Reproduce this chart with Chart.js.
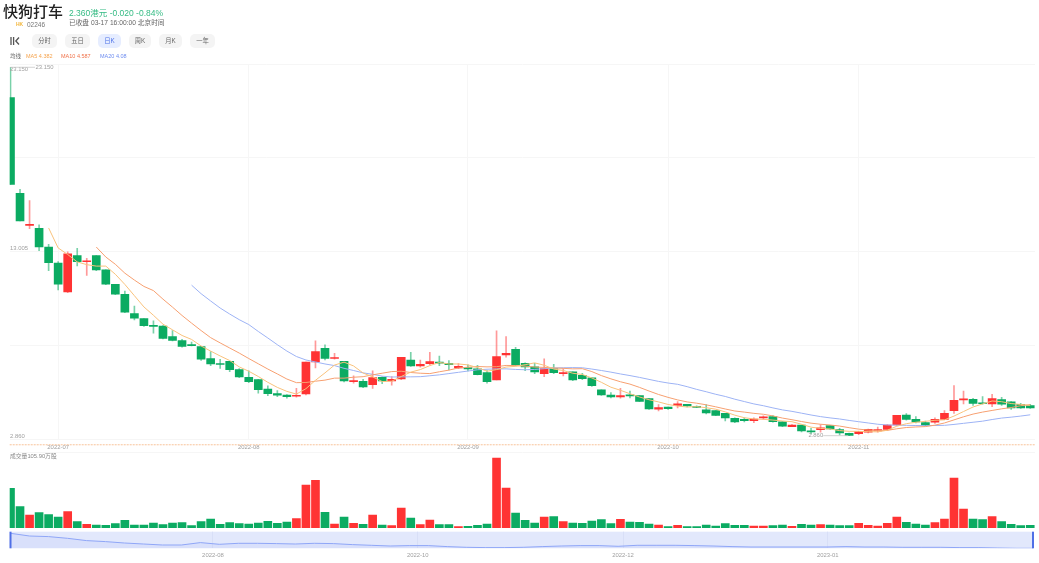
<!DOCTYPE html>
<html lang="zh-CN">
<head>
<meta charset="utf-8">
<title>快狗打车</title>
<script src="https://cdn.jsdelivr.net/npm/chart.js@4/dist/chart.umd.min.js"></script>
<style>
  html, body { margin: 0; padding: 0; background: #fff; }
  body { width: 1039px; height: 563px; overflow: hidden; position: relative; font-family: "Liberation Sans", "Noto Sans CJK SC", sans-serif; }
  canvas { position: absolute; left: 0; filter: blur(.3px); }
  .t { position: absolute; white-space: nowrap; line-height: 1; filter: blur(.25px); }
  .btn { position: absolute; top: 34px; height: 14px; line-height: 14px; border-radius: 5px; background: #f4f4f4; color: #666; font-size: 6.3px; text-align: center; filter: blur(.25px); }
  .btn.on { background: #e6edff; color: #4f73e8; }
</style>
</head>
<body>
<div class="t" style="left:3px;top:4px;font-size:15px;font-weight:500;color:#222">快狗打车</div>
<div class="t" style="left:69px;top:9px;font-size:8.5px;color:#35bb84">2.360港元 -0.020 -0.84%</div>
<div class="t" style="left:16px;top:22px;font-size:5px;font-weight:bold;color:#f2b63c">HK</div>
<div class="t" style="left:27px;top:21.5px;font-size:6.5px;color:#777">02246</div>
<div class="t" style="left:69px;top:20px;font-size:6.7px;color:#666">已收盘 03-17 16:00:00 北京时间</div>
<svg style="position:absolute;left:10px;top:37px" width="10" height="8" viewBox="0 0 10 8"><path d="M1 0V8M3.6 0V8M9 0.5L5.8 4L9 7.5" fill="none" stroke="#555" stroke-width="1.3"/></svg>
<div class="btn" style="left:32px;width:25px">分时</div>
<div class="btn" style="left:65px;width:25px">五日</div>
<div class="btn on" style="left:98px;width:23px">日K</div>
<div class="btn" style="left:129px;width:22px">周K</div>
<div class="btn" style="left:159px;width:23px">月K</div>
<div class="btn" style="left:190px;width:25px">一年</div>
<div class="t" style="left:10px;top:53.5px;font-size:5.5px;color:#666">均线</div>
<div class="t" style="left:26px;top:53.5px;font-size:5.5px;color:#f5a34d">MA5 4.382</div>
<div class="t" style="left:61px;top:53.5px;font-size:5.5px;color:#f0724a">MA10 4.587</div>
<div class="t" style="left:100px;top:53.5px;font-size:5.5px;color:#6d8cf0">MA20 4.08</div>
<div class="t" style="left:10px;top:454px;font-size:5.8px;color:#888">成交量105.90万股</div>

<canvas id="mainChart" width="1039" height="392" style="top:60px"></canvas>
<canvas id="volChart" width="1039" height="84" style="top:448px"></canvas>
<canvas id="navChart" width="1039" height="35" style="top:528px"></canvas>

<script>
// trading days shown in the candle pane
const categories = [
  '2022-06-23','2022-06-24','2022-06-27','2022-06-28','2022-06-29','2022-06-30',
  '2022-07-04','2022-07-05','2022-07-06','2022-07-07','2022-07-08','2022-07-11','2022-07-12','2022-07-13','2022-07-14','2022-07-15',
  '2022-07-18','2022-07-19','2022-07-20','2022-07-21','2022-07-22','2022-07-25','2022-07-26','2022-07-27','2022-07-28','2022-07-29',
  '2022-08-01','2022-08-02','2022-08-03','2022-08-04','2022-08-05','2022-08-08','2022-08-09','2022-08-10','2022-08-11','2022-08-12',
  '2022-08-15','2022-08-16','2022-08-17','2022-08-18','2022-08-19','2022-08-22','2022-08-23','2022-08-24','2022-08-25','2022-08-26',
  '2022-08-29','2022-08-30','2022-08-31',
  '2022-09-01','2022-09-02','2022-09-05','2022-09-06','2022-09-07','2022-09-08','2022-09-09','2022-09-13','2022-09-14','2022-09-15',
  '2022-09-16','2022-09-19','2022-09-20','2022-09-21','2022-09-22','2022-09-23','2022-09-26','2022-09-27','2022-09-28','2022-09-29','2022-09-30',
  '2022-10-03','2022-10-05','2022-10-06','2022-10-07','2022-10-10','2022-10-11','2022-10-12','2022-10-13','2022-10-14','2022-10-17',
  '2022-10-18','2022-10-19','2022-10-20','2022-10-21','2022-10-24','2022-10-25','2022-10-26','2022-10-27','2022-10-28','2022-10-31',
  '2022-11-01','2022-11-02','2022-11-03','2022-11-04','2022-11-07','2022-11-08','2022-11-09','2022-11-10','2022-11-11','2022-11-14',
  '2022-11-15','2022-11-16','2022-11-17','2022-11-18','2022-11-21','2022-11-22','2022-11-23','2022-11-24'
];

const opens = [
  21.48,16.21,14.44,14.28,13.25,12.37,10.78,12.78,12.44,12.78,
  11.99,11.20,10.65,9.58,9.31,8.90,8.90,8.32,8.10,7.86,
  7.77,7.10,6.81,6.96,6.50,6.08,5.95,5.43,5.18,5.10,
  5.03,5.16,6.92,7.67,7.11,6.96,5.84,5.86,5.67,6.08,
  5.88,5.98,7.03,6.70,6.83,6.92,6.85,6.59,6.61,6.54,
  6.33,5.93,7.31,7.62,6.85,6.65,6.28,6.55,6.28,6.37,
  6.19,6.04,5.38,5.09,4.99,5.09,5.07,4.90,4.32,4.43,
  4.53,4.59,4.44,4.28,4.24,4.09,3.82,3.76,3.69,3.84,
  3.91,3.63,3.36,3.45,3.12,3.19,3.41,3.19,2.99,2.97,
  3.05,3.12,3.21,3.45,4.00,3.76,3.58,3.60,3.76,4.24,
  4.83,4.86,4.64,4.61,4.85,4.72,4.59,4.52
];
const closes = [
  16.70,14.69,14.49,13.25,12.39,11.20,12.87,12.45,12.47,11.99,
  11.20,10.65,9.66,9.33,8.92,8.88,8.21,8.11,7.78,7.82,
  7.07,6.81,6.78,6.50,6.10,5.84,5.40,5.18,5.09,5.01,
  5.06,6.92,7.49,7.12,7.14,5.87,5.88,5.54,6.06,5.87,
  5.97,7.18,6.70,6.79,6.94,6.85,6.77,6.68,6.54,6.22,
  5.84,7.21,7.40,6.74,6.65,6.37,6.55,6.33,6.33,5.93,
  6.00,5.62,5.10,4.99,5.07,5.05,4.75,4.33,4.41,4.35,
  4.61,4.50,4.42,4.11,3.98,3.84,3.62,3.69,3.78,3.89,
  3.63,3.38,3.45,3.12,3.07,3.29,3.23,3.01,2.88,3.08,
  3.21,3.19,3.45,3.98,3.76,3.62,3.43,3.76,4.09,4.81,
  4.88,4.64,4.62,4.90,4.59,4.39,4.39,4.39
];
const highs = [
  23.15,16.43,15.81,14.47,13.40,12.45,12.98,13.18,12.63,12.78,
  11.99,11.20,10.83,10.00,9.31,9.18,8.92,8.65,8.17,8.02,
  7.77,7.49,7.07,6.96,6.55,6.43,5.97,5.60,5.34,5.12,
  5.47,6.92,8.08,7.86,7.40,6.96,6.15,5.97,6.43,6.10,
  6.11,7.18,7.45,7.03,7.45,7.25,6.99,6.83,6.76,6.74,
  6.44,8.63,8.32,7.73,6.87,6.85,7.09,6.79,6.55,6.37,
  6.30,6.04,5.38,5.23,5.47,5.32,5.07,4.90,4.57,4.43,
  4.74,4.59,4.50,4.57,4.24,4.09,3.85,3.85,3.85,3.95,
  3.97,3.64,3.47,3.45,3.27,3.47,3.41,3.27,3.01,3.10,
  3.23,3.34,3.47,3.98,4.08,3.91,3.67,3.84,4.24,5.62,
  5.32,4.92,5.01,5.14,4.97,4.74,4.64,4.59
];
const lows = [
  16.70,14.69,14.26,13.05,11.95,10.89,10.74,12.21,11.69,11.95,
  11.18,10.63,9.64,9.23,8.88,8.50,8.19,8.08,7.73,7.80,
  7.00,6.72,6.57,6.39,6.06,5.78,5.20,5.07,5.01,4.92,
  4.98,5.10,6.59,7.03,7.07,5.82,5.75,5.51,5.47,5.73,
  5.64,5.95,6.68,6.63,6.76,6.72,6.48,6.55,6.43,6.20,
  5.75,5.93,7.18,6.70,6.44,6.28,6.11,6.28,6.15,5.89,
  5.95,5.58,5.08,4.94,4.92,4.94,4.73,4.31,4.22,4.30,
  4.39,4.45,4.40,4.06,3.96,3.67,3.58,3.62,3.58,3.76,
  3.60,3.36,3.36,3.07,2.96,3.05,3.21,2.90,2.86,2.92,
  3.01,3.05,3.14,3.43,3.71,3.56,3.40,3.54,3.74,4.09,
  4.61,4.53,4.60,4.46,4.53,4.31,4.36,4.36
];

const ma5 = [
  null,null,null,null,14.30,13.20,12.84,12.43,12.28,12.20,
  12.20,11.75,11.19,10.57,9.95,9.49,9.00,8.69,8.38,8.16,
  7.80,7.52,7.25,7.00,6.65,6.41,6.12,5.80,5.52,5.30,
  5.15,5.45,5.91,6.32,6.75,6.91,6.70,6.31,6.10,5.84,
  5.86,6.12,6.36,6.50,6.72,6.89,6.81,6.81,6.76,6.61,
  6.41,6.50,6.64,6.68,6.77,6.87,6.74,6.53,6.45,6.30,
  6.23,6.04,5.80,5.53,5.36,5.17,4.99,4.84,4.72,4.58,
  4.49,4.44,4.46,4.40,4.32,4.17,3.99,3.85,3.78,3.76,
  3.72,3.67,3.63,3.49,3.33,3.26,3.23,3.14,3.10,3.10,
  3.08,3.07,3.16,3.38,3.52,3.60,3.65,3.71,3.73,3.94,
  4.19,4.44,4.61,4.77,4.73,4.63,4.58,4.53
];
const ma10 = [
  null,null,null,null,null,null,null,null,null,13.25,
  12.70,12.30,11.81,11.43,11.08,10.85,10.38,9.94,9.48,9.06,
  8.65,8.26,7.97,7.69,7.41,7.11,6.82,6.53,6.26,5.98,
  5.78,5.79,5.86,5.92,6.03,6.03,6.08,6.11,6.21,6.30,
  6.39,6.41,6.34,6.30,6.28,6.38,6.47,6.59,6.63,6.67,
  6.65,6.66,6.73,6.72,6.69,6.64,6.62,6.59,6.57,6.54,
  6.55,6.39,6.17,5.99,5.83,5.70,5.52,5.32,5.13,4.97,
  4.83,4.72,4.65,4.56,4.45,4.33,4.22,4.16,4.09,4.04,
  3.95,3.83,3.74,3.64,3.55,3.49,3.45,3.39,3.30,3.22,
  3.17,3.15,3.15,3.24,3.31,3.34,3.36,3.44,3.56,3.73,
  3.90,4.05,4.16,4.25,4.34,4.41,4.51,4.57
];
const ma20 = [
  null,null,null,null,null,null,null,null,null,null,
  null,null,null,null,null,null,null,null,null,11.15,
  10.68,10.28,9.89,9.56,9.25,8.98,8.60,8.24,7.87,7.52,
  7.22,7.03,6.92,6.81,6.72,6.57,6.45,6.32,6.24,6.14,
  6.09,6.10,6.10,6.11,6.16,6.21,6.28,6.35,6.42,6.49,
  6.52,6.54,6.54,6.51,6.49,6.51,6.55,6.59,6.60,6.61,
  6.60,6.53,6.45,6.36,6.26,6.17,6.07,5.96,5.85,5.76,
  5.69,5.56,5.41,5.28,5.14,5.02,4.87,4.74,4.61,4.51,
  4.39,4.28,4.20,4.10,4.00,3.91,3.84,3.78,3.70,3.63,
  3.56,3.49,3.45,3.44,3.43,3.42,3.41,3.42,3.43,3.48,
  3.54,3.60,3.66,3.75,3.83,3.88,3.94,4.01
];

// 万股
const volumes = [
  1547,832,507,598,520,429,637,247,143,117,
  104,169,299,117,117,195,130,195,208,91,
  247,351,143,208,169,156,195,260,182,234,
  364,1677,1859,611,156,429,182,143,507,117,
  91,780,390,130,312,130,130,52,65,104,
  156,2730,1560,585,299,195,429,442,247,195,
  182,273,325,169,338,234,221,156,117,52,
  104,52,52,117,78,169,104,104,78,78,
  91,117,65,143,117,130,117,91,91,182,
  104,78,182,429,221,156,117,208,351,1950,
  741,351,325,442,247,143,91,105.9
];

const xTickDates = ['2022-06-30','2022-07-29','2022-08-31','2022-09-30','2022-10-31'];
const xTickLabels = ['2022-07','2022-08','2022-09','2022-10','2022-11'];
const priceLabels = [23.150, 13.005, 2.860];
const priceGrid = [23.33, 18.17, 13.005, 7.83, 2.65];
const lastPrice = 2.36;
const priceHigh = 23.150, priceLow = 2.860;

// overview strip under the volumes
const navValues = [
  15,12.3,11.7,10,7.7,6.7,5.3,4.3,3.3,3.3,5.7,4,5,5,4.7,4.3,5,4.7,
  3.7,3,2.3,2.7,2.7,1.7,1,0.7,0.7,1,1.7,2.3,2.7,2.7,2,3,3,3,
  2.7,2.3,1.7,1.3,1.3,1.3,1.3,1.3,1.7,1.3,1.3,1,1,1,0.7,0.7,0.3,0,0
];
const navTickPos = [10.66, 21.45, 32.26, 43.04];
const navTickLabels = ['2022-08','2022-10','2022-12','2023-01'];

const GREEN = '#0bab62', RED = '#ff3333';
const GREEN_WICK = 'rgba(11,171,98,.55)', RED_WICK = 'rgba(255,51,51,.5)';
const GRID = '#f6f6f6';
const FONT = '"Liberation Sans", "Noto Sans CJK SC", sans-serif';
const xMin = -0.084, xMax = 107.5;

const isUp = i => closes[i] >= opens[i];
const bodyColors = categories.map((d, i) => isUp(i) ? RED : GREEN);
const wickColors = categories.map((d, i) => isUp(i) ? RED_WICK : GREEN_WICK);
const maLine = (label, data, color) => ({
  type: 'line', label, data: data.map((v, i) => ({ x: i, y: v })), borderColor: color,
  borderWidth: 1, pointRadius: 0, tension: 0, spanGaps: false, order: 0
});

const priceAnnotations = {
  id: 'priceAnnotations',
  afterDraw(chart) {
    const { ctx, chartArea, scales } = chart;
    const y = scales.y, x = scales.x;
    ctx.save();
    ctx.font = '5.9px ' + FONT;
    ctx.fillStyle = '#a0a0a0';
    ctx.textBaseline = 'middle';
    const nudge = [1.7, -3.2, 1];
    priceLabels.forEach((v, i) => ctx.fillText(v.toFixed(3), 10, y.getPixelForValue(v) + nudge[i]));

    // highest / lowest price markers
    const hy = y.getPixelForValue(priceHigh), ly = y.getPixelForValue(priceLow);
    const hx = x.getPixelForValue(highs.indexOf(priceHigh)), lx = x.getPixelForValue(lows.indexOf(priceLow));
    ctx.strokeStyle = '#c8c8c8';
    ctx.lineWidth = 0.8;
    ctx.beginPath();
    ctx.moveTo(hx, hy); ctx.lineTo(hx + 24.5, hy);
    ctx.moveTo(lx - 1, ly); ctx.lineTo(lx - 26, ly);
    ctx.stroke();
    ctx.fillText(priceHigh.toFixed(3), hx + 25, hy);
    ctx.textAlign = 'right';
    ctx.fillText(priceLow.toFixed(3), lx - 26, ly);

    // last price line
    const py = y.getPixelForValue(lastPrice);
    ctx.strokeStyle = '#f8c49a';
    ctx.lineWidth = 1;
    ctx.setLineDash([2, 1]);
    ctx.beginPath();
    ctx.moveTo(chartArea.left, py); ctx.lineTo(chartArea.right, py);
    ctx.stroke();
    ctx.restore();
  }
};

new Chart(document.getElementById('mainChart'), {
  data: {
    datasets: [
      maLine('MA5', ma5, '#f9c27c'),
      maLine('MA10', ma10, '#f7a071'),
      maLine('MA20', ma20, '#9db3f5'),
      {
        type: 'bar', label: 'body', order: 1, grouped: false, barThickness: 8, minBarLength: 1,
        data: categories.map((d, i) => ({ x: i, y: [opens[i], closes[i]] })),
        backgroundColor: bodyColors
      },
      {
        type: 'bar', label: 'wick', order: 2, grouped: false, barThickness: 1,
        data: categories.map((d, i) => ({ x: i, y: [lows[i], highs[i]] })),
        backgroundColor: wickColors
      }
    ]
  },
  options: {
    responsive: false,
    animation: false,
    layout: { padding: { left: 9.7, right: 4, top: 4, bottom: 0 } },
    plugins: { legend: { display: false }, tooltip: { enabled: false } },
    scales: {
      x: {
        type: 'linear', min: xMin, max: xMax, offset: false,
        border: { display: false },
        grid: { color: GRID, drawTicks: false, offset: false },
        afterBuildTicks: s => { s.ticks = xTickDates.map(d => ({ value: categories.indexOf(d) })); },
        afterFit: s => { s.height = 12.5; },
        ticks: {
          padding: 4.5, maxRotation: 0, autoSkip: false, color: '#a0a0a0', font: { size: 5.9, family: FONT },
          callback: (v, i) => xTickLabels[i]
        }
      },
      y: {
        min: priceGrid[4], max: priceGrid[0],
        border: { display: false },
        grid: { color: GRID, drawTicks: false },
        afterBuildTicks: s => { s.ticks = priceGrid.map(v => ({ value: v })); },
        afterFit: s => { s.width = 0; },
        ticks: { display: false }
      }
    }
  },
  plugins: [priceAnnotations]
});

new Chart(document.getElementById('volChart'), {
  data: {
    datasets: [{
      type: 'bar', label: '成交量', barThickness: 8,
      data: categories.map((d, i) => ({ x: i, y: volumes[i] })),
      backgroundColor: bodyColors
    }]
  },
  options: {
    responsive: false,
    animation: false,
    layout: { padding: { left: 9.7, right: 4, top: 4, bottom: 4 } },
    plugins: { legend: { display: false }, tooltip: { enabled: false } },
    scales: {
      x: { type: 'linear', min: xMin, max: xMax, offset: false, display: false },
      y: {
        min: 0, max: 2964,
        border: { display: false },
        grid: { color: GRID, drawTicks: false },
        afterBuildTicks: s => { s.ticks = [{ value: 2964 }]; },
        afterFit: s => { s.width = 0; },
        ticks: { display: false }
      }
    }
  }
});

const navFrame = {
  id: 'navFrame',
  beforeDraw(chart) {
    const { ctx, chartArea: a } = chart;
    ctx.fillStyle = '#e2e8fc';
    ctx.fillRect(a.left, a.top, a.right - a.left, a.bottom - a.top);
  },
  afterDraw(chart) {
    const { ctx, chartArea: a } = chart;
    ctx.fillStyle = '#4f6fe6';
    ctx.fillRect(a.left - 1, a.top, 2, a.bottom - a.top);
    ctx.fillRect(a.right - 1, a.top, 2, a.bottom - a.top);
  }
};

new Chart(document.getElementById('navChart'), {
  data: {
    datasets: [{
      type: 'line', label: 'overview',
      data: navValues.map((v, i) => ({ x: i, y: v })),
      borderColor: '#8fa6f7', borderWidth: 1, pointRadius: 0, tension: 0,
      fill: 'origin', backgroundColor: 'rgba(120,145,240,.08)'
    }]
  },
  options: {
    responsive: false,
    animation: false,
    layout: { padding: { left: 10.5, right: 6, top: 3.7, bottom: 0 } },
    plugins: { legend: { display: false }, tooltip: { enabled: false } },
    scales: {
      x: {
        type: 'linear', min: 0, max: navValues.length - 1.15,
        border: { display: false },
        grid: { color: '#d8dff7', drawTicks: false },
        afterBuildTicks: s => { s.ticks = navTickPos.map(v => ({ value: v })); },
        afterFit: s => { s.height = 14.7; },
        ticks: {
          padding: 3.5, maxRotation: 0, autoSkip: false, color: '#a0a0a0', font: { size: 5.9, family: FONT },
          callback: (v, i) => navTickLabels[i]
        }
      },
      y: {
        min: 0, max: 16.6, display: false
      }
    }
  },
  plugins: [navFrame]
});
</script>
</body>
</html>
